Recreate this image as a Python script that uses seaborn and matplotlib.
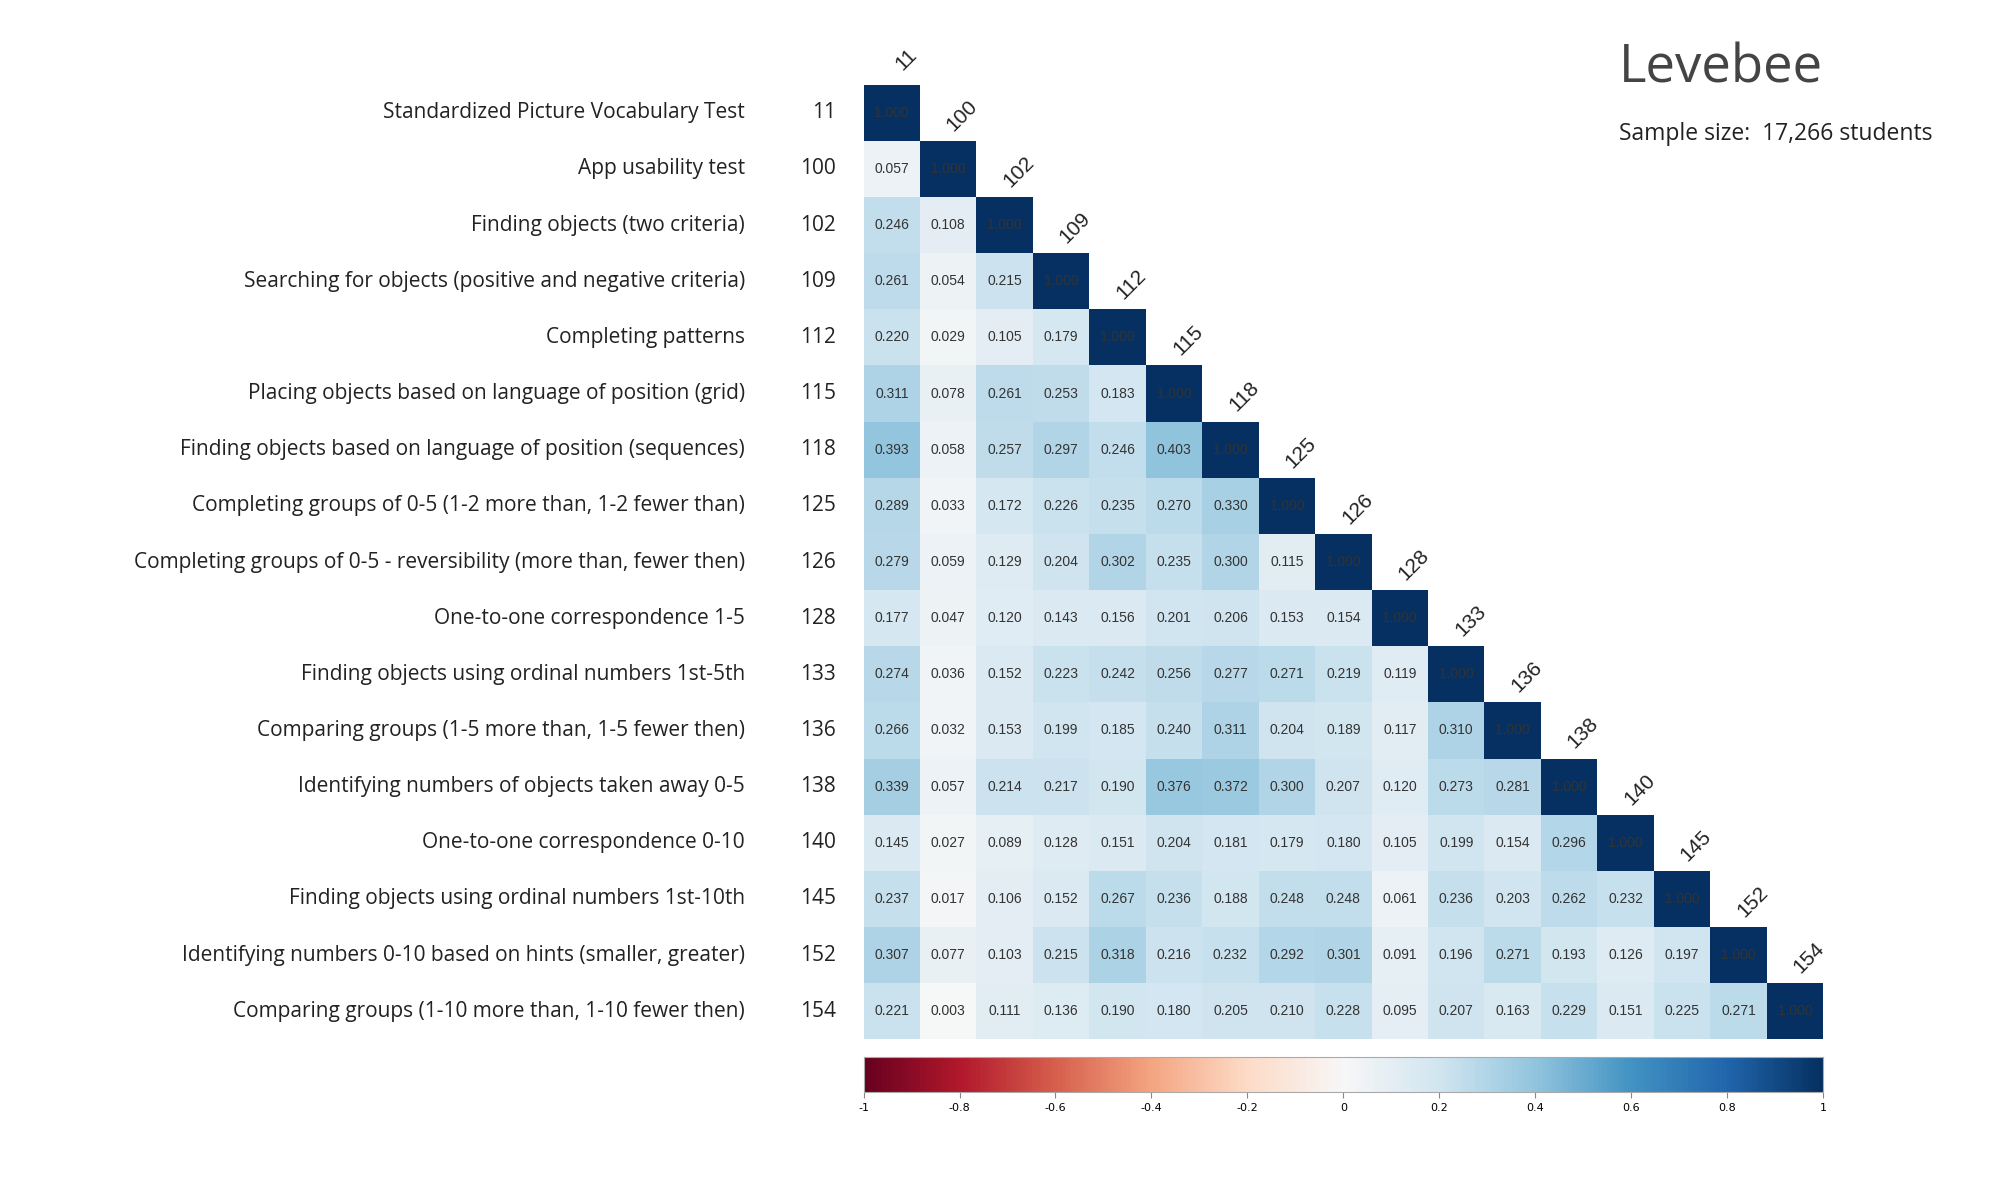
import numpy as np
import pandas as pd
import seaborn as sns
import matplotlib.pyplot as plt

codes = ["11", "100", "102", "109", "112", "115", "118", "125", "126", "128",
         "133", "136", "138", "140", "145", "152", "154"]
names = [
    "Standardized Picture Vocabulary Test",
    "App usability test",
    "Finding objects (two criteria)",
    "Searching for objects (positive and negative criteria)",
    "Completing patterns",
    "Placing objects based on language of position (grid)",
    "Finding objects based on language of position (sequences)",
    "Completing groups of 0-5 (1-2 more than, 1-2 fewer than)",
    "Completing groups of 0-5 - reversibility (more than, fewer then)",
    "One-to-one correspondence 1-5",
    "Finding objects using ordinal numbers 1st-5th",
    "Comparing groups (1-5 more than, 1-5 fewer then)",
    "Identifying numbers of objects taken away 0-5",
    "One-to-one correspondence 0-10",
    "Finding objects using ordinal numbers 1st-10th",
    "Identifying numbers 0-10 based on hints (smaller, greater)",
    "Comparing groups (1-10 more than, 1-10 fewer then)",
]
# lower-triangle rows (without diagonal)
lower = [
    [],
    [0.057],
    [0.246, 0.108],
    [0.261, 0.054, 0.215],
    [0.220, 0.029, 0.105, 0.179],
    [0.311, 0.078, 0.261, 0.253, 0.183],
    [0.393, 0.058, 0.257, 0.297, 0.246, 0.403],
    [0.289, 0.033, 0.172, 0.226, 0.235, 0.270, 0.330],
    [0.279, 0.059, 0.129, 0.204, 0.302, 0.235, 0.300, 0.115],
    [0.177, 0.047, 0.120, 0.143, 0.156, 0.201, 0.206, 0.153, 0.154],
    [0.274, 0.036, 0.152, 0.223, 0.242, 0.256, 0.277, 0.271, 0.219, 0.119],
    [0.266, 0.032, 0.153, 0.199, 0.185, 0.240, 0.311, 0.204, 0.189, 0.117, 0.310],
    [0.339, 0.057, 0.214, 0.217, 0.190, 0.376, 0.372, 0.300, 0.207, 0.120, 0.273, 0.281],
    [0.145, 0.027, 0.089, 0.128, 0.151, 0.204, 0.181, 0.179, 0.180, 0.105, 0.199, 0.154, 0.296],
    [0.237, 0.017, 0.106, 0.152, 0.267, 0.236, 0.188, 0.248, 0.248, 0.061, 0.236, 0.203, 0.262, 0.232],
    [0.307, 0.077, 0.103, 0.215, 0.318, 0.216, 0.232, 0.292, 0.301, 0.091, 0.196, 0.271, 0.193, 0.126, 0.197],
    [0.221, 0.003, 0.111, 0.136, 0.190, 0.180, 0.205, 0.210, 0.228, 0.095, 0.207, 0.163, 0.229, 0.151, 0.225, 0.271],
]
sample_text = "Sample size:  17,266 students"

n = len(codes)
mat = np.full((n, n), np.nan)
for i, row in enumerate(lower):
    mat[i, :len(row)] = row
    mat[i, i] = 1.0
df = pd.DataFrame(mat, index=codes, columns=codes)
mask = np.triu(np.ones((n, n), dtype=bool), k=1)

fig = plt.figure(figsize=(19.99, 11.77), dpi=100)
ax = fig.add_axes([0.432, 0.117, 0.480, 0.811])
cax = fig.add_axes([0.432, 0.072, 0.480, 0.030])

sns.heatmap(df, mask=mask, cmap="RdBu", vmin=-1, vmax=1, annot=True, fmt=".3f",
            annot_kws={"fontsize": 10, "color": "#333333", "family": "Liberation Sans"},
            cbar_ax=cax, cbar_kws={"orientation": "horizontal"}, ax=ax, square=False)
for t in ax.texts:
    t.set_color("#333333")

ax.set_xticks([])
ax.set_yticks(np.arange(n) + 0.5)
ax.set_yticklabels(codes, fontsize=15, family="Open Sans", color="#222222", rotation=0)
ax.tick_params(axis="y", length=0, pad=20)
ax.set_xlabel("")
ax.set_ylabel("")

for i, nm in enumerate(names):
    ax.text(-2.1, i + 0.5, nm, ha="right", va="center", fontsize=15,
            family="Open Sans", color="#222222")
for j, c in enumerate(codes):
    ax.text(j + 0.75, j - 0.45, c, ha="center", va="center", rotation=45,
            fontsize=15, family="Liberation Sans", color="#222222", clip_on=False)

cax.set_xticks(np.linspace(-1, 1, 11))
cax.set_xticklabels(["-1", "-0.8", "-0.6", "-0.4", "-0.2", "0", "0.2", "0.4", "0.6", "0.8", "1"])
cax.tick_params(labelsize=8, length=4, color="#888888")
for s in cax.spines.values():
    s.set_visible(True)
    s.set_color("#aaaaaa")

fig.text(0.810, 0.942, "Levebee", fontsize=38, family="Open Sans", color="#444444",
         ha="left", va="center")
fig.text(0.810, 0.886, sample_text, fontsize=16.5, family="Open Sans", color="#222222",
         ha="left", va="center")

fig.savefig("out.png", dpi=100)
